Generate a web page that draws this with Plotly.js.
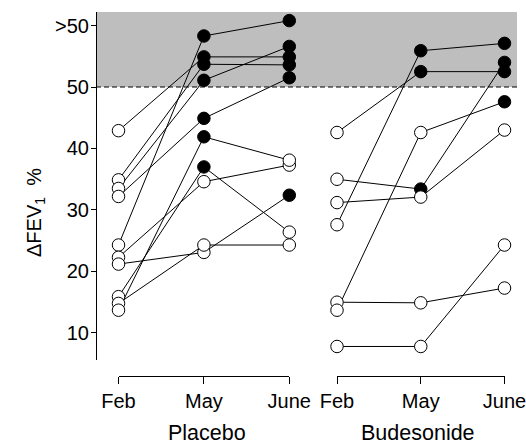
<!DOCTYPE html>
<html>
<head>
<meta charset="utf-8">
<script src="https://cdn.plot.ly/plotly-3.0.1.min.js"></script>
<style>html,body{margin:0;padding:0;background:#fff;}#chart{width:526px;height:444px;}</style>
</head>
<body>
<div id="chart"></div>
<script>
// Categories / tick labels
const months = ['Feb', 'May', 'June'];
const yTickVals = [10, 20, 30, 40, 50, 60];
const yTickText = ['10', '20', '30', '40', '50', '>50'];
const groups = ['Placebo', 'Budesonide'];

// Placebo subjects (ΔFEV1 %), one entry per subject
const placeboFeb  = [42.9, 34.9, 33.5, 32.2, 24.3, 22.3, 21.2, 15.9, 14.8, 13.7];
const placeboMay  = [54.9, 53.7, 51.1, 44.9, 58.3, 34.6, 23.1, 37.0, 24.3, 41.9];
const placeboJune = [54.9, 53.6, 56.6, 51.5, 60.8, 37.3, 32.4, 26.4, 24.3, 38.1];
const placeboFebFilled  = [0, 0, 0, 0, 0, 0, 0, 0, 0, 0];
const placeboMayFilled  = [1, 1, 1, 1, 1, 0, 0, 1, 0, 1];
const placeboJuneFilled = [1, 1, 1, 1, 1, 0, 1, 0, 0, 0];

// Budesonide subjects
const budesFeb  = [42.6, 35.0, 31.2, 27.6, 15.0, 13.7, 7.8];
const budesMay  = [52.5, 33.4, 32.1, 55.9, 14.9, 42.6, 7.8];
const budesJune = [52.5, 54.0, 43.0, 57.1, 17.3, 47.6, 24.3];
const budesFebFilled  = [0, 0, 0, 0, 0, 0, 0];
const budesMayFilled  = [1, 1, 0, 1, 0, 0, 0];
const budesJuneFilled = [1, 1, 0, 1, 0, 1, 0];

const W = 526, H = 444;
const px = v => v / W;
const py = v => (H - v) / H;
const FONT = 'Liberation Sans, Arial, Helvetica, sans-serif';

function panelTraces(feb, may, june, fFeb, fMay, fJune, xa) {
  const lines = [], marks = {x: [], y: [], c: []};
  for (let i = 0; i < feb.length; i++) {
    const ys = [feb[i], may[i], june[i]];
    const fs = [fFeb[i], fMay[i], fJune[i]];
    lines.push({
      type: 'scatter', mode: 'lines', x: [0, 1, 2], y: ys,
      xaxis: xa, yaxis: 'y', line: {color: 'black', width: 1},
      hoverinfo: 'skip', showlegend: false
    });
    for (let k = 0; k < 3; k++) {
      marks.x.push(k); marks.y.push(ys[k]); marks.c.push(fs[k] ? 'black' : 'white');
    }
  }
  const markerTrace = {
    type: 'scatter', mode: 'markers', x: marks.x, y: marks.y,
    xaxis: xa, yaxis: 'y', cliponaxis: false, showlegend: false,
    marker: {size: 12.5, color: marks.c, line: {color: 'black', width: 1}}
  };
  return {lines, markerTrace};
}

const p = panelTraces(placeboFeb, placeboMay, placeboJune, placeboFebFilled, placeboMayFilled, placeboJuneFilled, 'x');
const b = panelTraces(budesFeb, budesMay, budesJune, budesFebFilled, budesMayFilled, budesJuneFilled, 'x2');
const data = [...p.lines, ...b.lines, p.markerTrace, b.markerTrace];

const xCommon = {
  range: [0, 2], tickvals: [0, 1, 2], ticktext: months,
  showline: true, linecolor: 'black', linewidth: 1,
  ticks: 'outside', ticklen: 7, tickcolor: 'black', tickwidth: 1,
  showgrid: false, zeroline: false, fixedrange: true,
  ticklabeloverflow: 'allow',
  tickfont: {family: FONT, size: 20, color: 'black'},
  anchor: 'free', position: py(375.7)
};

const layout = {
  width: W, height: H,
  margin: {l: 0, r: 0, t: 0, b: 0},
  paper_bgcolor: 'white', plot_bgcolor: 'rgba(0,0,0,0)',
  showlegend: false,
  xaxis: Object.assign({}, xCommon, {domain: [px(118.5), px(289.3)]}),
  xaxis2: Object.assign({}, xCommon, {domain: [px(337), px(504.5)]}),
  yaxis: {
    range: [5.6, 62.2], domain: [py(360), py(12)],
    anchor: 'free', position: px(96), side: 'left',
    tickvals: yTickVals, ticktext: yTickText,
    showline: true, linecolor: 'black', linewidth: 1,
    ticks: 'outside', ticklen: 5, tickcolor: 'black', tickwidth: 1,
    ticklabelstandoff: -2, ticklabeloverflow: 'allow',
    showgrid: false, zeroline: false, fixedrange: true,
    tickfont: {family: FONT, size: 20, color: 'black'}
  },
  shapes: [
    {type: 'rect', xref: 'paper', yref: 'y', x0: px(96), x1: px(517), y0: 50, y1: 62.2,
     fillcolor: '#bebebe', line: {width: 0}, layer: 'below'},
    {type: 'line', xref: 'paper', yref: 'y', x0: px(96), x1: px(517), y0: 50, y1: 50,
     line: {color: 'black', width: 1, dash: '5px,3px'}, layer: 'below'}
  ],
  annotations: [
    {text: groups[0], xref: 'paper', yref: 'paper', x: px(206.5), y: py(432.5), showarrow: false,
     xanchor: 'center', yanchor: 'middle', font: {family: FONT, size: 21.5, color: 'black'}},
    {text: groups[1], xref: 'paper', yref: 'paper', x: px(418), y: py(432.5), showarrow: false,
     xanchor: 'center', yanchor: 'middle', font: {family: FONT, size: 21.5, color: 'black'}},
    {text: 'ΔFEV<sub>1</sub>  %', xref: 'paper', yref: 'paper', x: px(35), y: py(213), showarrow: false,
     textangle: -90, xanchor: 'center', yanchor: 'middle', font: {family: FONT, size: 20, color: '#000000'}}
  ]
};

Plotly.newPlot('chart', data, layout, {displayModeBar: false, staticPlot: true});
</script>
</body>
</html>
